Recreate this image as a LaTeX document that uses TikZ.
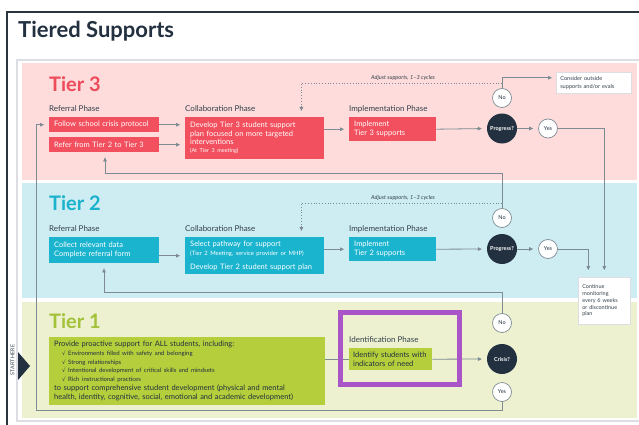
\documentclass[tikz,border=0pt]{standalone}
\usepackage{fontspec}
\setmainfont{Lato}
\newfontfamily\djv{DejaVu Sans}
\usetikzlibrary{arrows.meta}
\definecolor{navy}{HTML}{223040}
\definecolor{framec}{HTML}{2A3540}
\definecolor{panelc}{HTML}{DDDEE4}
\definecolor{linec}{HTML}{7E8B93}
\definecolor{txtc}{HTML}{34404B}
\definecolor{bg3}{HTML}{FDDCDB}
\definecolor{title3}{HTML}{EE4C5B}
\definecolor{box3}{HTML}{F2505E}
\definecolor{bg2}{HTML}{CDEDF2}
\definecolor{title2}{HTML}{1AB2CD}
\definecolor{box2}{HTML}{1BB4CF}
\definecolor{bg1}{HTML}{EDF1D0}
\definecolor{title1}{HTML}{A3C23A}
\definecolor{box1}{HTML}{B5CE3B}
\definecolor{purp}{HTML}{A955C7}
\tikzset{
  tiertitle/.style={anchor=base west, inner sep=0pt, font=\fontsize{20}{24}\bfseries\selectfont},
  phase/.style={anchor=base west, inner sep=0pt, text=txtc, font=\fontsize{8}{10}\selectfont},
  basebox/.style={rectangle, inner xsep=5pt, inner ysep=1pt, align=left, anchor=north west,
     font=\fontsize{7.5}{9}\selectfont},
  redbox/.style={basebox, fill=box3, text=white},
  cyanbox/.style={basebox, fill=box2, text=white},
  greenbox/.style={basebox, fill=box1, text=navy},
  whitebox/.style={rectangle, draw=panelc, line width=0.6pt, fill=white, inner xsep=4pt, inner ysep=1pt,
     align=left, anchor=north west, text=txtc},
  decision/.style={circle, fill=navy, minimum size=30pt, inner sep=0pt, text=white,
     font=\fontsize{5.5}{6}\bfseries\selectfont},
  yesno/.style={circle, draw=linec, line width=0.7pt, fill=white, minimum size=19pt, inner sep=0pt,
     text=navy, font=\fontsize{5.5}{6}\selectfont},
  conn/.style={draw=linec, line width=0.8pt},
  arr/.style={conn, -{Triangle[length=4pt,width=3.6pt]}, shorten >=5pt},
  dotarr/.style={arr, dotted},
  adjlabel/.style={inner sep=0pt, text=txtc, font=\fontsize{5.6}{6}\itshape\selectfont}
}
\begin{document}
\begin{tikzpicture}[x=1pt,y=-1pt]
\useasboundingbox (0,0) rectangle (639,425);
\fill[white] (0,0) rectangle (639,425);
% outer frame
\draw[framec, line width=2pt] (7,426) -- (7,12) -- (640,12);
\node[anchor=base west, inner sep=0pt, text=navy, font=\fontsize{22}{26}\bfseries\selectfont] (title) at (18,38) {Tiered Supports};
% panel and tier backgrounds
\draw[panelc, line width=1.2pt, fill=white] (17,60) rectangle (645,421);
\fill[bg3] (22,63) rectangle (637,180);
\fill[bg2] (22,183) rectangle (637,298);
\fill[bg1] (22,302) rectangle (637,418);

% ---------- Tier 3 ----------
\node[tiertitle, text=title3] (t3) at (49,92) {Tier 3};
\node[phase] (ref3) at (49,111) {Referral Phase};
\node[phase] (col3) at (185,111) {Collaboration Phase};
\node[phase] (imp3) at (349,111) {Implementation Phase};
\node[redbox, text width=100pt, minimum height=15pt] (f1) at (49,117) {Follow school crisis protocol};
\node[redbox, text width=100pt, minimum height=15pt] (f2) at (49,137) {Refer from Tier 2 to Tier 3};
\node[redbox, text width=129pt, minimum height=42pt] (dev3) at (185,117)
  {\fontsize{7.5}{8.5}\selectfont Develop Tier 3 student support\\plan focused on more targeted\\interventions\\[-1pt]{\fontsize{5.5}{7}\selectfont (At Tier 3 meeting)}};
\node[redbox, text width=77pt, minimum height=24pt] (impl3) at (349,117) {Implement\\Tier 3 supports};
\node[decision] (p3) at (502,128.5) {Progress?};
\node[yesno] (n3) at (502,98) {No};
\node[yesno] (y3) at (548,128.5) {Yes};
\node[whitebox, text width=67pt, minimum height=21pt, font=\fontsize{5.6}{7.5}\selectfont] (cons) at (556,72) {Consider outside\\supports and/or evals};
\node[adjlabel] (adj3) at (403,78) {Adjust supports, 1–3 cycles};

% ---------- Tier 2 ----------
\node[tiertitle, text=title2] (t2) at (49,210) {Tier 2};
\node[phase] (ref2) at (49,231) {Referral Phase};
\node[phase] (col2) at (185,231) {Collaboration Phase};
\node[phase] (imp2) at (349,231) {Implementation Phase};
\node[cyanbox, text width=100pt, minimum height=26pt] (c1) at (49,237) {\fontsize{7.5}{12.5}\selectfont Collect relevant data\\Complete referral form};
\node[cyanbox, text width=129pt, minimum height=37pt] (sel) at (185,237)
  {{\fontsize{7.5}{9}\selectfont Select pathway for support\par}
   {\fontsize{5.9}{9}\selectfont (Tier 2 Meeting, service provider or MHP)\par}
   {\fontsize{7.5}{14}\selectfont Develop Tier 2 student support plan\par}};
\node[cyanbox, text width=77pt, minimum height=24pt] (impl2) at (349,237) {Implement\\Tier 2 supports};
\node[decision] (p2) at (502,249) {Progress?};
\node[yesno] (n2) at (502,218) {No};
\node[yesno] (y2) at (548,249) {Yes};
\node[adjlabel] (adj2) at (403,198) {Adjust supports, 1–3 cycles};
\node[whitebox, text width=44pt, minimum height=47pt, font=\fontsize{5.5}{6.8}\selectfont] (cont) at (578,277)
  {Continue\\monitoring\\every 6 weeks\\or discontinue\\plan};

% ---------- Tier 1 ----------
\node[tiertitle, text=title1] (t1) at (49,328) {Tier 1};
\node[greenbox, text width=266pt, minimum height=68pt] (g1) at (49,337)
  {{\fontsize{7.5}{9}\selectfont Provide proactive support for ALL students, including:\par}
   {\fontsize{6}{8.7}\selectfont\hspace*{8pt}{\djv\fontsize{5.5}{8.7}\selectfont √} Environments filled with safety and belonging\par
    \hspace*{8pt}{\djv\fontsize{5.5}{8.7}\selectfont √} Strong relationships\par
    \hspace*{8pt}{\djv\fontsize{5.5}{8.7}\selectfont √} Intentional development of critical skills and mindsets\par
    \hspace*{8pt}{\djv\fontsize{5.5}{8.7}\selectfont √} Rich instructional practices\par}
   {\fontsize{7.5}{9.5}\selectfont to support comprehensive student development (physical and mental\par}
   {\fontsize{7.5}{9}\selectfont health, identity, cognitive, social, emotional and academic development)\par}};
\node[phase] (idp) at (349,342) {Identification Phase};
\node[greenbox, inner xsep=4pt, text width=75pt, minimum height=22pt] (ident) at (349,348) {Identify students with\\indicators of need};
\node[decision] (crisis) at (502,359) {Crisis?};
\node[yesno] (n1) at (502,323) {No};
\node[yesno] (y1) at (502,392) {Yes};
\node[rotate=90, inner sep=0pt, text=txtc, font=\fontsize{5.3}{6}\selectfont] (start) at (12.5,360) {START HERE};
\fill[navy] (18,352) -- (30,366) -- (18,380) -- cycle;

% ---------- coordinates ----------
\coordinate (d3) at (502,83);
\coordinate (d2) at (502,203);
\coordinate (up2) at (105,173);
\coordinate (up1) at (104,292);
\coordinate (loop) at (36,410);

% ---------- connectors ----------
% tier 3
\draw[arr] (f1.east) -- (f1.east -| dev3.west);
\draw[arr] (f2.east) -- (f2.east -| dev3.west);
\draw[arr] (dev3.east |- impl3.west) -- (impl3.west);
\draw[arr] (impl3.east) -- (p3.west);
\draw[arr] (p3.east) -- (y3.west);
\draw[arr, shorten >=4pt] (n3.north) |- ([yshift=5pt]cons.west);
\draw[dotarr, shorten >=6pt] (d3) -| ([xshift=-23pt]dev3.north east);
\draw[arr, shorten >=7pt] (y3.east) -| (cont.north);
% tier 2
\draw[arr] (c1.east |- sel.west) -- (sel.west);
\draw[arr] (sel.east |- impl2.west) -- (impl2.west);
\draw[arr] (impl2.east) -- (p2.west);
\draw[arr] (p2.east) -- (y2.west);
\draw[arr] (n2.north) |- (up2) -- (up2 |- f2.south);
\draw[dotarr, shorten >=6pt] (d2) -| ([xshift=-23pt]sel.north east);
\draw[arr, shorten >=7pt] (y2.east) -| ([xshift=-16pt]cont.north);
% tier 1
\draw[conn] (g1.east |- ident.west) -- (ident.west);
\draw[arr] (ident.east) -- (crisis.west);
\draw[arr] (n1.north) |- (up1) -- (up1 |- c1.south);
\draw[arr] (y1.south) |- (loop) |- (f1.west);
% highlight frame
\draw[purp, line width=5pt] (340.5,312.5) rectangle (459.5,384.5);
\end{tikzpicture}
\end{document}
